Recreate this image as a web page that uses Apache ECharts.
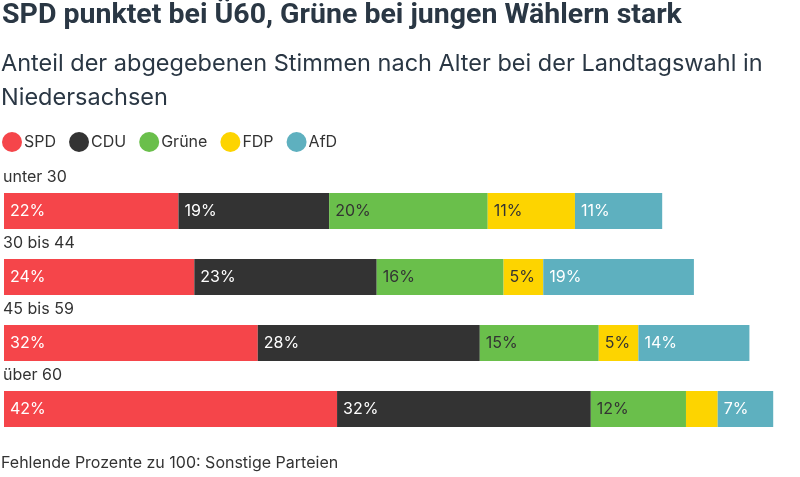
<!DOCTYPE html>
<html><head><meta charset="utf-8">
<script src="https://cdn.jsdelivr.net/npm/echarts@6/dist/echarts.min.js"></script>
<style>html,body{margin:0;padding:0;background:#fff}#c{width:800px;height:477px}</style>
</head><body><div id="c"></div>
<script>
const categories = ['unter 30', '30 bis 44', '45 bis 59', 'über 60'];
const parties = ['SPD', 'CDU', 'Grüne', 'FDP', 'AfD'];
const SPD = [22, 24, 32, 42];
const CDU = [19, 23, 28, 32];
const Gruene = [20, 16, 15, 12];
const FDP = [11, 5, 5, 4];
const AfD = [11, 19, 14, 7];
const colors = ['#f5454a', '#333333', '#6abf4b', '#fdd400', '#5eb0bf'];
const labelColors = ['#ffffff', '#ffffff', '#333333', '#333333', '#ffffff'];
const values = [SPD, CDU, Gruene, FDP, AfD];
const font = 'Inter, "Noto Sans", sans-serif';

const chart = echarts.init(document.getElementById('c'));
chart.setOption({
  animation: false,
  title: [
    { text: 'SPD punktet bei Ü60, Grüne bei jungen Wählern stark', left: 2, top: 1, padding: 0,
      textStyle: { fontFamily: 'Roboto, sans-serif', fontWeight: 'bold', fontSize: 28.5, color: '#2a3744' } },
    { text: 'Anteil der abgegebenen Stimmen nach Alter bei der Landtagswahl in\nNiedersachsen', left: 1, top: 47, padding: 0,
      textStyle: { fontFamily: font, fontWeight: 'normal', fontSize: 23.5, lineHeight: 34, color: '#2a3744' } },
    { text: 'Fehlende Prozente zu 100: Sonstige Parteien', left: 1, top: 455, padding: 0,
      textStyle: { fontFamily: font, fontWeight: 'normal', fontSize: 16, color: '#333333' } }
  ],
  legend: {
    left: 2, top: 132, padding: 0, icon: 'circle', itemWidth: 20, itemHeight: 20, itemGap: 13,
    textStyle: { fontFamily: font, fontSize: 16, color: '#333333', padding: [0, 0, 0, -3] },
    data: parties
  },
  grid: { left: 2, right: 3, top: 178, bottom: 35, containLabel: false },
  xAxis: { type: 'value', min: 0, max: 100, show: false },
  yAxis: {
    type: 'category', data: categories, inverse: true,
    axisLine: { show: false }, axisTick: { show: false },
    axisLabel: { inside: true, align: 'left', verticalAlign: 'bottom', margin: -1,
      padding: [0, 0, 26, 0], fontFamily: font, fontSize: 16, color: '#333333' }
  },
  series: parties.map((p, i) => ({
    name: p, type: 'bar', stack: 'total', barWidth: 36,
    data: values[i],
    itemStyle: { color: colors[i] },
    label: {
      show: true, position: 'insideLeft', distance: 6,
      fontFamily: font, fontSize: 16, color: labelColors[i],
      formatter: (d) => d.value >= 5 ? d.value + '%' : ''
    }
  }))
});
</script></body></html>
